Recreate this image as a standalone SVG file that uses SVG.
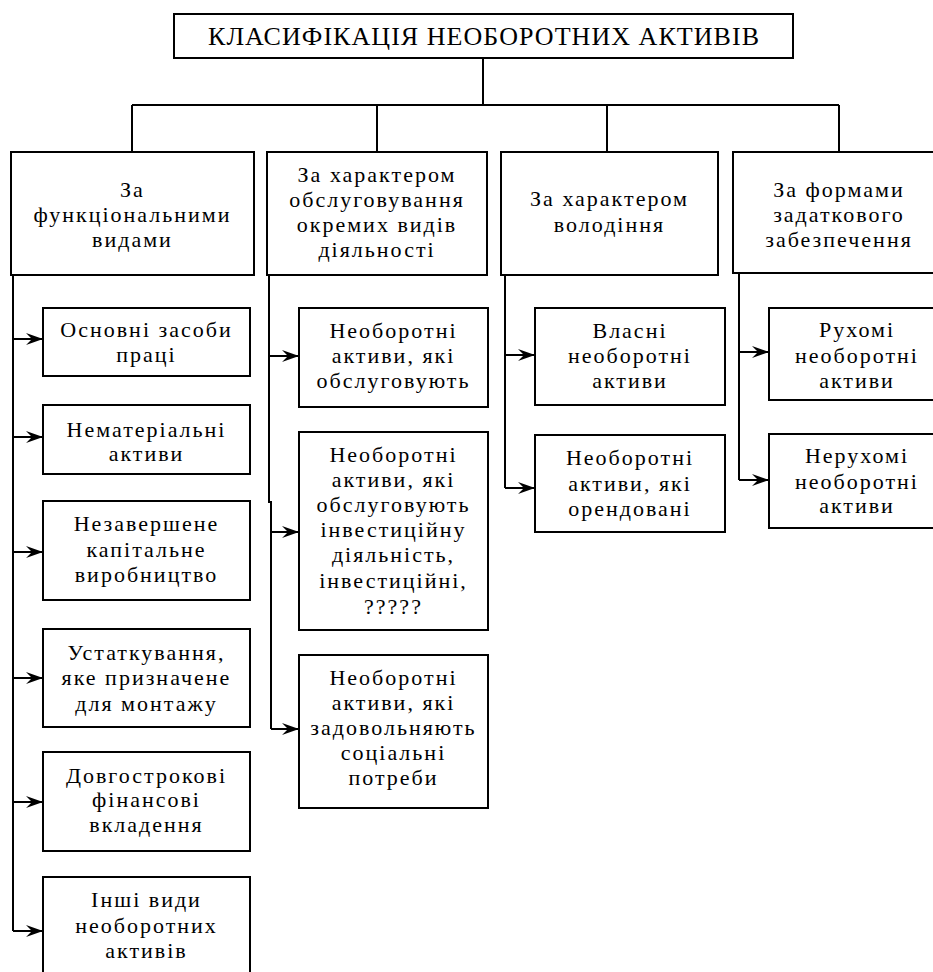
<svg xmlns="http://www.w3.org/2000/svg" width="933" height="972" viewBox="0 0 933 972">
<style>
  .box { fill: #ffffff; stroke: #000000; stroke-width: 2; }
  .ln { fill: none; stroke: #000000; stroke-width: 2; }
  .arr { fill: none; stroke: #000000; stroke-width: 2; marker-end: url(#ah); }
  .t { font-family: "Liberation Serif", "Times New Roman", serif; font-size: 22px; fill: #000000; text-anchor: middle; letter-spacing: 2px; }
  .title { font-size: 26px; letter-spacing: 0px; }
</style>
<defs>
  <marker id="ah" markerUnits="userSpaceOnUse" markerWidth="18" markerHeight="14" refX="17" refY="7" orient="auto">
    <path d="M0,1 L17,7 L0,13 L6,7 Z" fill="#000000"/>
  </marker>
</defs>
<rect width="933" height="972" fill="#ffffff"/>

<g id="connectors">
  <path class="ln" d="M483,58 V105 M132,105 H839 M132,105 V152 M377,105 V152 M607,105 V152 M839,105 V152"/>
  <path class="ln" d="M13,275 V931"/>
  <path class="ln" d="M269,275 V502 H271 V729"/>
  <path class="ln" d="M505,275 V488"/>
  <path class="ln" d="M739,273 V480"/>
  <path class="arr" d="M13,339 H43"/>
  <path class="arr" d="M13,437 H43"/>
  <path class="arr" d="M13,552 H43"/>
  <path class="arr" d="M13,678 H43"/>
  <path class="arr" d="M13,802 H43"/>
  <path class="arr" d="M13,931 H43"/>
  <path class="arr" d="M269,356 H299"/>
  <path class="arr" d="M271,532 H299"/>
  <path class="arr" d="M271,729 H299"/>
  <path class="arr" d="M505,355 H535"/>
  <path class="arr" d="M505,488 H535"/>
  <path class="arr" d="M739,352 H769"/>
  <path class="arr" d="M739,480 H769"/>
</g>

<g id="title">
  <rect class="box" x="174" y="14" width="619" height="44"/>
  <text class="t title" x="483.5" y="45" textLength="551" lengthAdjust="spacing">КЛАСИФІКАЦІЯ НЕОБОРОТНИХ АКТИВІВ</text>
</g>

<g id="h1">
  <rect class="box" x="11" y="152" width="243" height="123"/>
  <text class="t"><tspan x="132.5" y="197">За</tspan><tspan x="132.5" y="222">функціональними</tspan><tspan x="132.5" y="247">видами</tspan></text>
</g>
<g id="h2">
  <rect class="box" x="267" y="152" width="220" height="123"/>
  <text class="t"><tspan x="377" y="182">За характером</tspan><tspan x="377" y="207">обслуговування</tspan><tspan x="377" y="232">окремих видів</tspan><tspan x="377" y="257">діяльності</tspan></text>
</g>
<g id="h3">
  <rect class="box" x="501" y="152" width="217" height="123"/>
  <text class="t"><tspan x="609.5" y="206">За характером</tspan><tspan x="609.5" y="232">володіння</tspan></text>
</g>
<g id="h4">
  <rect class="box" x="733" y="152" width="212" height="121"/>
  <text class="t"><tspan x="839" y="197">За формами</tspan><tspan x="839" y="222">задаткового</tspan><tspan x="839" y="247">забезпечення</tspan></text>
</g>

<g id="c1n1">
  <rect class="box" x="43" y="308" width="207" height="68"/>
  <text class="t"><tspan x="146.5" y="337">Основні засоби</tspan><tspan x="146.5" y="362">праці</tspan></text>
</g>
<g id="c1n2">
  <rect class="box" x="43" y="405" width="207" height="69"/>
  <text class="t"><tspan x="146.5" y="437">Нематеріальні</tspan><tspan x="146.5" y="461">активи</tspan></text>
</g>
<g id="c1n3">
  <rect class="box" x="43" y="501" width="207" height="99"/>
  <text class="t"><tspan x="146.5" y="531">Незавершене</tspan><tspan x="146.5" y="557">капітальне</tspan><tspan x="146.5" y="582">виробництво</tspan></text>
</g>
<g id="c1n4">
  <rect class="box" x="43" y="629" width="207" height="98"/>
  <text class="t"><tspan x="146.5" y="660">Устаткування,</tspan><tspan x="146.5" y="685">яке призначене</tspan><tspan x="146.5" y="711">для монтажу</tspan></text>
</g>
<g id="c1n5">
  <rect class="box" x="43" y="752" width="207" height="99"/>
  <text class="t"><tspan x="146.5" y="783">Довгострокові</tspan><tspan x="146.5" y="807">фінансові</tspan><tspan x="146.5" y="832">вкладення</tspan></text>
</g>
<g id="c1n6">
  <rect class="box" x="43" y="877" width="207" height="110"/>
  <text class="t"><tspan x="146.5" y="907">Інші види</tspan><tspan x="146.5" y="933">необоротних</tspan><tspan x="146.5" y="958">активів</tspan></text>
</g>

<g id="c2n1">
  <rect class="box" x="299" y="308" width="189" height="99"/>
  <text class="t"><tspan x="393.5" y="338">Необоротні</tspan><tspan x="393.5" y="363">активи, які</tspan><tspan x="393.5" y="388">обслуговують</tspan></text>
</g>
<g id="c2n2">
  <rect class="box" x="299" y="432" width="189" height="198"/>
  <text class="t"><tspan x="393.5" y="462">Необоротні</tspan><tspan x="393.5" y="487">активи, які</tspan><tspan x="393.5" y="512">обслуговують</tspan><tspan x="393.5" y="537">інвестиційну</tspan><tspan x="393.5" y="562">діяльність,</tspan><tspan x="393.5" y="588">інвестиційні,</tspan><tspan x="393.5" y="614">?????</tspan></text>
</g>
<g id="c2n3">
  <rect class="box" x="299" y="655" width="189" height="153"/>
  <text class="t"><tspan x="393.5" y="685">Необоротні</tspan><tspan x="393.5" y="710">активи, які</tspan><tspan x="393.5" y="735">задовольняють</tspan><tspan x="393.5" y="760">соціальні</tspan><tspan x="393.5" y="785">потреби</tspan></text>
</g>

<g id="c3n1">
  <rect class="box" x="535" y="308" width="190" height="97"/>
  <text class="t"><tspan x="630" y="338">Власні</tspan><tspan x="630" y="363">необоротні</tspan><tspan x="630" y="388">активи</tspan></text>
</g>
<g id="c3n2">
  <rect class="box" x="535" y="435" width="190" height="97"/>
  <text class="t"><tspan x="630" y="465">Необоротні</tspan><tspan x="630" y="491">активи, які</tspan><tspan x="630" y="516">орендовані</tspan></text>
</g>

<g id="c4n1">
  <rect class="box" x="769" y="308" width="176" height="92"/>
  <text class="t"><tspan x="857" y="337">Рухомі</tspan><tspan x="857" y="363">необоротні</tspan><tspan x="857" y="388">активи</tspan></text>
</g>
<g id="c4n2">
  <rect class="box" x="769" y="434" width="176" height="94"/>
  <text class="t"><tspan x="857" y="463">Нерухомі</tspan><tspan x="857" y="489">необоротні</tspan><tspan x="857" y="513">активи</tspan></text>
</g>
</svg>
